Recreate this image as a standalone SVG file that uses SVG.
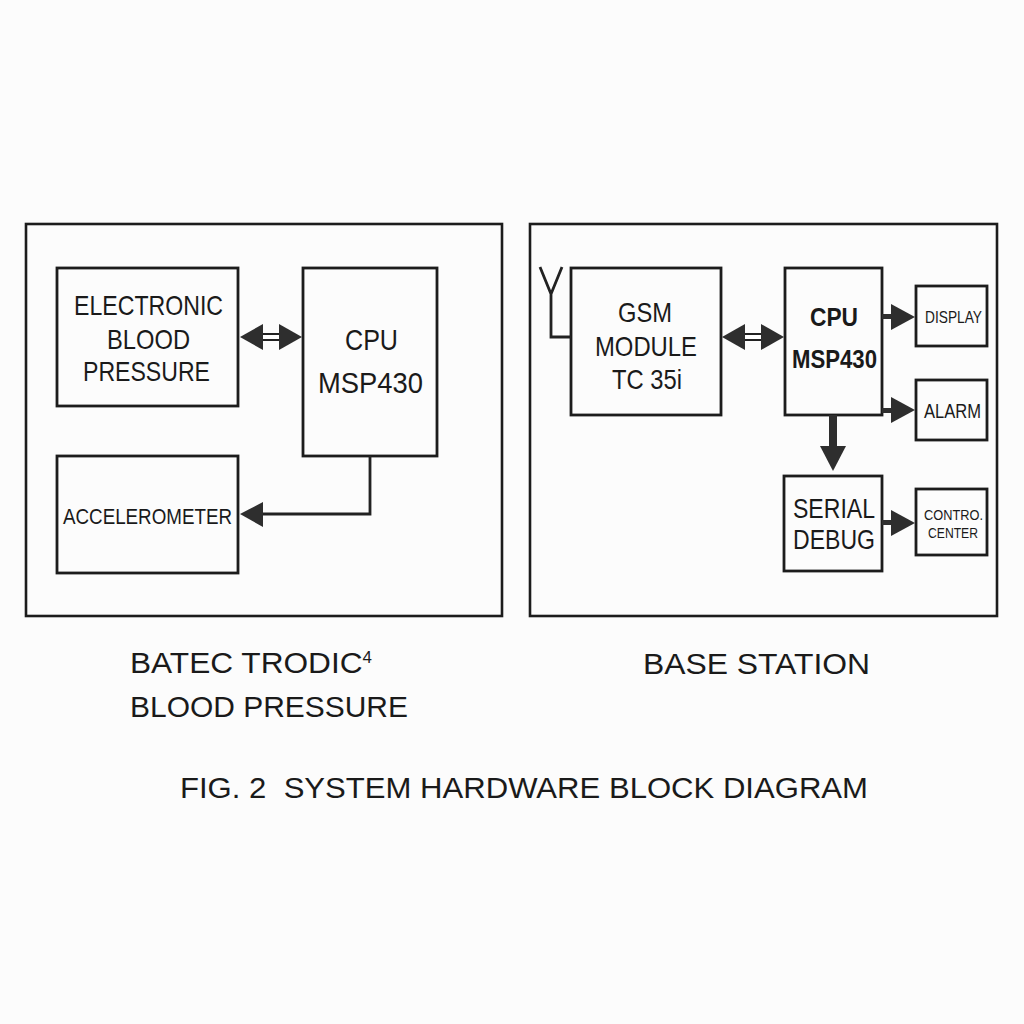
<svg xmlns="http://www.w3.org/2000/svg" width="1024" height="1024" viewBox="0 0 1024 1024">
<style>
.box{fill:none;stroke:#1c1c1c;stroke-width:2.8}
.frame{fill:none;stroke:#1c1c1c;stroke-width:2.6}
.ln{fill:none;stroke:#222;stroke-width:2.8}
.hd{fill:#2e2e2e;stroke:none}
.t{font-family:"Liberation Sans","DejaVu Sans",sans-serif;fill:#1a1a1a;text-anchor:start}
.b{font-weight:bold}
</style>
<rect width="1024" height="1024" fill="#fcfcfc"/>
<g id="frame-left"><rect class="frame" x="26" y="224" width="476" height="392"/></g>
<g id="frame-right"><rect class="frame" x="530" y="224" width="467" height="392"/></g>

<g id="ebp"><rect class="box" x="57" y="268" width="181" height="138"/>
<text class="t" x="74" y="315" font-size="28" textLength="149" lengthAdjust="spacingAndGlyphs">ELECTRONIC</text>
<text class="t" x="107" y="349" font-size="28" textLength="83" lengthAdjust="spacingAndGlyphs">BLOOD</text>
<text class="t" x="83" y="381" font-size="28" textLength="127" lengthAdjust="spacingAndGlyphs">PRESSURE</text></g>

<g id="cpu-left"><rect class="box" x="303" y="268" width="134" height="188"/>
<text class="t" x="345" y="350" font-size="30" textLength="53" lengthAdjust="spacingAndGlyphs">CPU</text>
<text class="t" x="318" y="393" font-size="30" textLength="105" lengthAdjust="spacingAndGlyphs">MSP430</text></g>

<g id="accel"><rect class="box" x="57" y="456" width="181" height="117"/>
<text class="t" x="63" y="524" font-size="22" textLength="169" lengthAdjust="spacingAndGlyphs">ACCELEROMETER</text></g>

<g id="gsm"><rect class="box" x="571" y="268" width="150" height="147"/>
<text class="t" x="618" y="322" font-size="28" textLength="54" lengthAdjust="spacingAndGlyphs">GSM</text>
<text class="t" x="595" y="356" font-size="28" textLength="102" lengthAdjust="spacingAndGlyphs">MODULE</text>
<text class="t" x="612" y="389" font-size="28" textLength="70" lengthAdjust="spacingAndGlyphs">TC 35i</text></g>

<g id="cpu-right"><rect class="box" x="785" y="268" width="97" height="147"/>
<text class="t b" x="810" y="326" font-size="26" textLength="48" lengthAdjust="spacingAndGlyphs">CPU</text>
<text class="t b" x="792" y="368" font-size="26" textLength="85" lengthAdjust="spacingAndGlyphs">MSP430</text></g>

<g id="display"><rect class="box" x="916" y="286" width="71" height="60"/>
<text class="t" x="925" y="323" font-size="17" textLength="57" lengthAdjust="spacingAndGlyphs">DISPLAY</text></g>

<g id="alarm"><rect class="box" x="916" y="380" width="71" height="60"/>
<text class="t" x="924" y="418" font-size="20" textLength="57" lengthAdjust="spacingAndGlyphs">ALARM</text></g>

<g id="serial"><rect class="box" x="784" y="476" width="98" height="95"/>
<text class="t" x="793" y="518" font-size="28" textLength="82" lengthAdjust="spacingAndGlyphs">SERIAL</text>
<text class="t" x="793" y="549" font-size="28" textLength="82" lengthAdjust="spacingAndGlyphs">DEBUG</text></g>

<g id="control"><rect class="box" x="916" y="489" width="71" height="66"/>
<text class="t" x="924" y="520" font-size="15" textLength="59" lengthAdjust="spacingAndGlyphs">CONTRO.</text>
<text class="t" x="928" y="538" font-size="15" textLength="50" lengthAdjust="spacingAndGlyphs">CENTER</text></g>

<g id="antenna"><path class="ln" d="M540,267 L551,294 L562,267 M551,294 V337 H571"/></g>

<g id="connectors">
<rect x="261" y="334" width="20" height="6" fill="#fff" stroke="#222" stroke-width="2"/>
<polygon class="hd" points="240,337 263,324 263,350"/>
<polygon class="hd" points="302,337 279,324 279,350"/>
<path class="ln" d="M370,456 V514 H260"/>
<polygon class="hd" points="240,514 263,502 263,527"/>
<rect x="743" y="334" width="20" height="6" fill="#fff" stroke="#222" stroke-width="2"/>
<polygon class="hd" points="722,337 745,324 745,350"/>
<polygon class="hd" points="784,337 761,324 761,350"/>
<rect x="882" y="314" width="12" height="5" class="hd"/>
<polygon class="hd" points="915,317 891,304 891,330"/>
<rect x="882" y="408" width="12" height="5" class="hd"/>
<polygon class="hd" points="915,410 891,397 891,423"/>
<rect x="829" y="415" width="8" height="33" class="hd"/>
<polygon class="hd" points="833,471 820,446 846,446"/>
<rect x="882" y="520" width="12" height="5" class="hd"/>
<polygon class="hd" points="915,523 891,510 891,536"/>
</g>

<g id="labels">
<text class="t" x="130" y="673" font-size="30" textLength="242" lengthAdjust="spacingAndGlyphs">BATEC TRODIC<tspan font-size="16" dy="-10">4</tspan></text>
<text class="t" x="130" y="717" font-size="30" textLength="278" lengthAdjust="spacingAndGlyphs">BLOOD PRESSURE</text>
<text class="t" x="643" y="674" font-size="30" textLength="227" lengthAdjust="spacingAndGlyphs">BASE STATION</text>
<text class="t" x="180" y="798" font-size="30" textLength="688" lengthAdjust="spacingAndGlyphs" xml:space="preserve">FIG. 2  SYSTEM HARDWARE BLOCK DIAGRAM</text>
</g>
</svg>
